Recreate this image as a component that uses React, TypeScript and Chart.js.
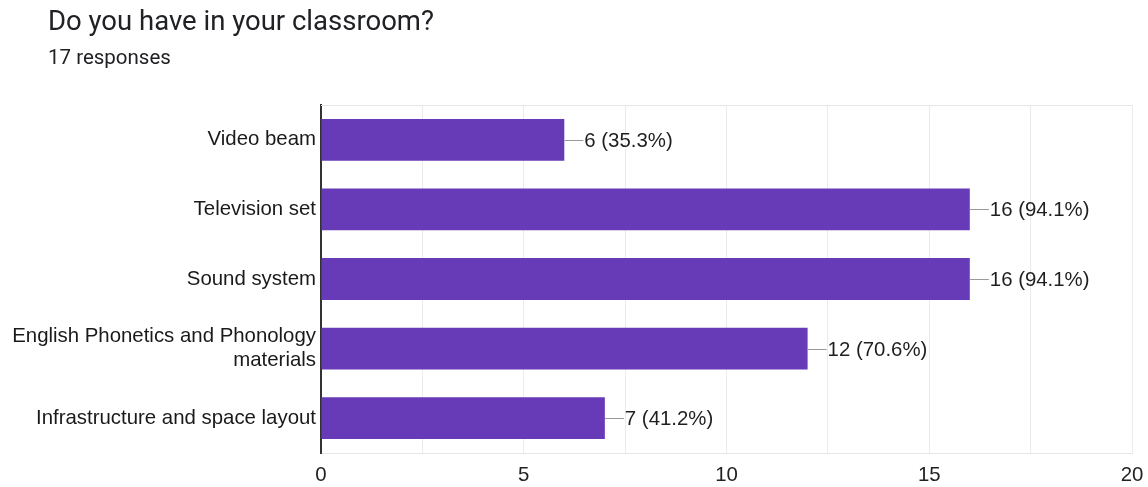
import React, { useEffect, useRef } from "react";
import { Chart, registerables } from "chart.js";

Chart.register(...registerables);

const categories: (string | string[])[] = [
  "Video beam",
  "Television set",
  "Sound system",
  ["English Phonetics and Phonology", "materials"],
  "Infrastructure and space layout",
];
const counts: number[] = [6, 16, 16, 12, 7];
const percents: string[] = ["35.3%", "94.1%", "94.1%", "70.6%", "41.2%"];
const xTickLabels: number[] = [0, 5, 10, 15, 20];

const TITLE = "Do you have in your classroom?";
const SUBTITLE = "17 responses";
const BAR_COLOR = "#673ab7";
const FONT = "Arial, 'Liberation Sans', sans-serif";

const valueLabels = {
  id: "valueLabels",
  afterDatasetsDraw(chart: any) {
    const ctx = chart.ctx;
    const meta = chart.getDatasetMeta(0);
    const area = chart.chartArea;
    ctx.save();
    ctx.strokeStyle = "#e6e6e6";
    ctx.lineWidth = 1;
    ctx.beginPath();
    ctx.moveTo(area.left, Math.round(area.top) + 0.5);
    ctx.lineTo(area.right, Math.round(area.top) + 0.5);
    ctx.stroke();
    meta.data.forEach((bar: any, i: number) => {
      const x = bar.x;
      const y = Math.round(bar.y);
      ctx.strokeStyle = "#999999";
      ctx.lineWidth = 1;
      ctx.beginPath();
      ctx.moveTo(x, y + 0.5);
      ctx.lineTo(x + 19, y + 0.5);
      ctx.stroke();
      ctx.fillStyle = "#1f1f1f";
      ctx.font = `20.4px ${FONT}`;
      ctx.textAlign = "left";
      ctx.textBaseline = "middle";
      ctx.fillText(`${counts[i]} (${percents[i]})`, x + 20, y + 1);
    });
    ctx.restore();
  },
};

export default function App() {
  const ref = useRef<HTMLCanvasElement>(null);
  useEffect(() => {
    document.body.style.margin = "0";
    if (!ref.current) return;
    const chart = new Chart(ref.current, {
      type: "bar",
      data: {
        labels: categories as any,
        datasets: [
          {
            data: counts,
            backgroundColor: BAR_COLOR,
            borderWidth: 0,
            barPercentage: 0.6,
            categoryPercentage: 1,
          },
        ],
      },
      options: {
        indexAxis: "y",
        animation: false,
        responsive: false,
        maintainAspectRatio: false,
        layout: { padding: { top: 105, right: 16, left: 0, bottom: 0 } },
        plugins: {
          legend: { display: false },
          tooltip: { enabled: false },
          title: { display: false },
        },
        scales: {
          x: {
            min: 0,
            max: 20,
            afterBuildTicks: (scale: any) => {
              const t: any[] = [];
              for (let v = 0; v <= 20; v += 2.5) t.push({ value: v });
              scale.ticks = t;
            },
            afterFit: (scale: any) => {
              scale.height = 34;
              scale.paddingRight = 0;
              scale.paddingLeft = 0;
            },
            grid: { color: "#ebebeb", drawTicks: false, lineWidth: 1 },
            border: { display: true, color: "#e6e6e6", width: 1 },
            ticks: {
              autoSkip: false,
              maxRotation: 0,
              padding: 10,
              color: "#222222",
              font: { size: 20.4, family: FONT },
              callback: (v: any) =>
                xTickLabels.includes(Number(v)) ? String(v) : "",
            },
          },
          y: {
            afterFit: (scale: any) => {
              scale.width = 321;
            },
            grid: { display: false, drawTicks: false },
            border: { display: true, color: "#333333", width: 2 },
            ticks: {
              padding: 5,
              color: "#1a1a1a",
              autoSkip: false,
              font: { size: 20.4, family: FONT, lineHeight: 1.18 },
            },
          },
        },
      },
      plugins: [valueLabels],
    });
    return () => chart.destroy();
  }, []);

  return (
    <div
      style={{
        position: "absolute",
        left: 0,
        top: 0,
        width: 1148,
        height: 487,
        background: "#fff",
      }}
    >
      <canvas
        ref={ref}
        width={1148}
        height={487}
        style={{ position: "absolute", left: 0, top: 0, width: 1148, height: 487 }}
      />
      <div
        style={{
          position: "absolute",
          left: 48,
          top: 7,
          fontFamily: "Roboto, sans-serif",
          fontSize: 27.5,
          lineHeight: "27.5px",
          color: "#202124",
          whiteSpace: "nowrap",
        }}
      >
        {TITLE}
      </div>
      <div
        style={{
          position: "absolute",
          left: 48,
          top: 47,
          fontFamily: "Roboto, sans-serif",
          fontSize: 20.5,
          lineHeight: "20.5px",
          color: "#202124",
          whiteSpace: "nowrap",
        }}
      >
        {SUBTITLE}
      </div>
    </div>
  );
}
